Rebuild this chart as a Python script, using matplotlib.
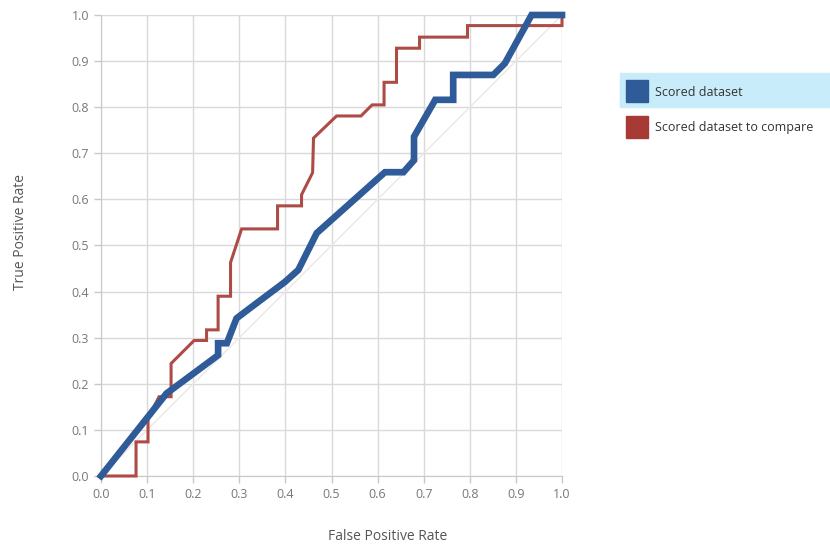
import matplotlib
matplotlib.use("Agg")
import matplotlib.pyplot as plt
from matplotlib.patches import Rectangle

# ---- data ----
blue_fpr = [0.0, 0.142, 0.254, 0.254, 0.273, 0.294, 0.323, 0.399, 0.428, 0.468,
            0.616, 0.656, 0.679, 0.679, 0.725, 0.764, 0.764, 0.851, 0.876, 0.934, 1.0]
blue_tpr = [0.0, 0.179, 0.262, 0.288, 0.288, 0.342, 0.364, 0.421, 0.447, 0.527,
            0.659, 0.659, 0.685, 0.736, 0.816, 0.816, 0.870, 0.870, 0.895, 1.0, 1.0]

red_fpr = [0.0, 0.076, 0.076, 0.102, 0.102, 0.126, 0.152, 0.152, 0.202, 0.229,
           0.229, 0.254, 0.254, 0.281, 0.281, 0.305, 0.383, 0.383, 0.435, 0.435,
           0.459, 0.461, 0.511, 0.564, 0.588, 0.614, 0.614, 0.641, 0.641, 0.691,
           0.691, 0.795, 0.795, 1.0, 1.0]
red_tpr = [0.0, 0.0, 0.074, 0.074, 0.126, 0.172, 0.172, 0.244, 0.294, 0.294,
           0.317, 0.317, 0.390, 0.390, 0.463, 0.536, 0.536, 0.586, 0.586, 0.610,
           0.658, 0.733, 0.781, 0.781, 0.805, 0.805, 0.854, 0.854, 0.928, 0.928,
           0.952, 0.952, 0.977, 0.977, 1.0]

series_names = ["Scored dataset", "Scored dataset to compare"]
ticks = [0.0, 0.1, 0.2, 0.3, 0.4, 0.5, 0.6, 0.7, 0.8, 0.9, 1.0]
tick_labels = ["0.0", "0.1", "0.2", "0.3", "0.4", "0.5", "0.6", "0.7", "0.8", "0.9", "1.0"]

blue = "#2f5b98"
red = "#ad4b46"
grey_text = "#777777"
grid_c = "#d9d9d9"

plt.rcParams['font.family'] = ['Open Sans', 'DejaVu Sans']

fig = plt.figure(figsize=(8.3, 5.48), dpi=100)
ax = fig.add_axes([101/830, 72/548, 461/830, 461/548])
ax.set_xlim(0, 1)
ax.set_ylim(0, 1)

ax.plot([0, 1], [0, 1], color="#ece6e6", lw=1.0, zorder=1)
ax.plot(red_fpr, red_tpr, color=red, lw=2.2, zorder=3, clip_on=False,
        solid_joinstyle="miter")
ax.plot(blue_fpr, blue_tpr, color=blue, lw=4.8, zorder=4, clip_on=False,
        solid_joinstyle="miter")

ax.set_xticks(ticks)
ax.set_xticklabels(tick_labels)
ax.set_yticks(ticks)
ax.set_yticklabels(tick_labels)
ax.grid(True, color=grid_c, lw=1.0, zorder=0)
ax.set_axisbelow(True)
for s in ["top", "right"]:
    ax.spines[s].set_visible(False)
for s in ["left", "bottom"]:
    ax.spines[s].set_color("#c8c8c8")
ax.tick_params(colors="#c8c8c8", labelcolor=grey_text, labelsize=9, length=5, width=1)

fig.text(388/830, 1 - 537/548, "False Positive Rate", ha="center", va="center",
         fontsize=10, color="#555555")
fig.text(20/830, 1 - 232/548, "True Positive Rate", ha="center", va="center",
         rotation=90, fontsize=10, color="#555555")

# legend (drawn in figure coordinates)
def fx(px):
    return px / 830
def fy(py):
    return 1 - py / 548

fig.patches.append(Rectangle((fx(620), fy(107)), fx(830) - fx(620), fy(73) - fy(107),
                             transform=fig.transFigure, color="#c9ecfb", zorder=0))
fig.patches.append(Rectangle((fx(626), fy(102)), fx(22), 22/548,
                             transform=fig.transFigure, color=blue, zorder=1))
fig.patches.append(Rectangle((fx(626), fy(138)), fx(22), 22/548,
                             transform=fig.transFigure, color="#a83a35", zorder=1))
fig.text(fx(655), fy(92), series_names[0], ha="left", va="center", fontsize=9, color="#333333")
fig.text(fx(655), fy(127), series_names[1], ha="left", va="center", fontsize=9, color="#333333")

fig.savefig("out.png", dpi=100)
